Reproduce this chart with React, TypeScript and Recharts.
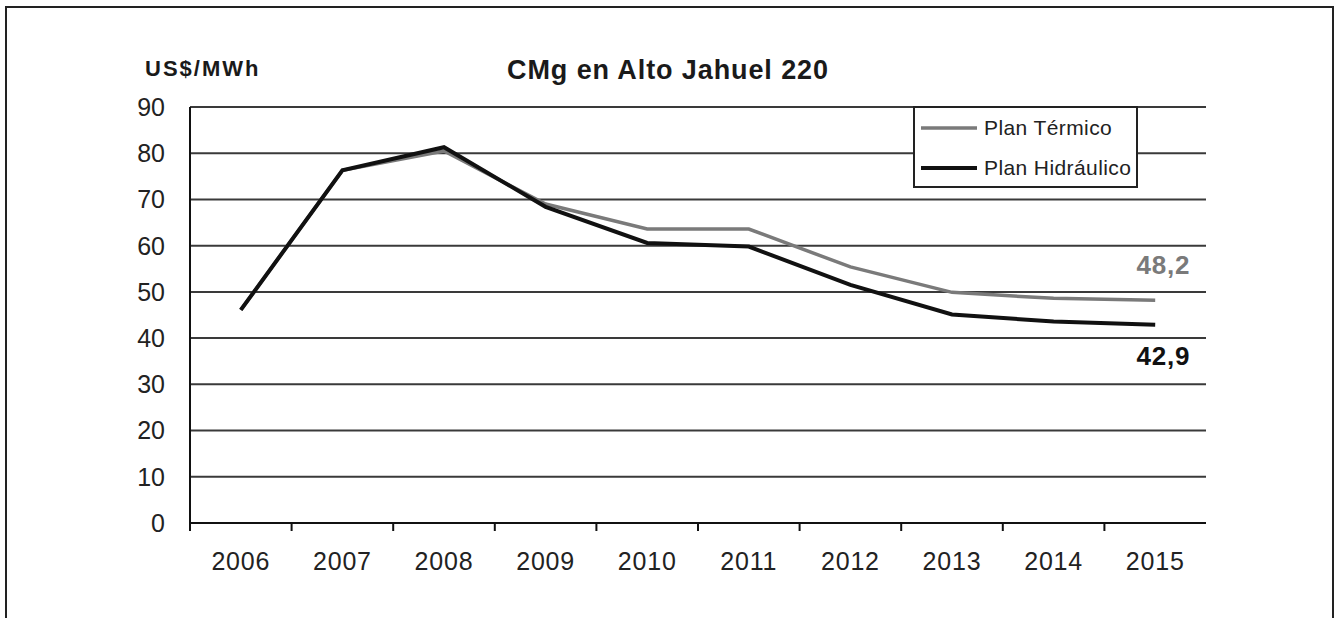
import React from 'react';
import { LineChart, Line, XAxis, YAxis, CartesianGrid } from 'recharts';

// values
const years = ['2006', '2007', '2008', '2009', '2010', '2011', '2012', '2013', '2014', '2015'];
const planTermico = [46.1, 76.3, 80.5, 69.0, 63.6, 63.6, 55.4, 49.9, 48.6, 48.2];
const planHidraulico = [46.1, 76.3, 81.3, 68.4, 60.6, 59.8, 51.5, 45.1, 43.6, 42.9];
const yTicks = [0, 10, 20, 30, 40, 50, 60, 70, 80, 90];

const data = years.map((year, i) => ({
  year,
  termico: planTermico[i],
  hidraulico: planHidraulico[i],
}));

const series = [
  { key: 'termico', name: 'Plan Térmico', color: '#7a7a7a', width: 3.5 },
  { key: 'hidraulico', name: 'Plan Hidráulico', color: '#111111', width: 4 },
];

const W = 1334;
const H = 618;
const MARGIN = { top: 107, right: 128, bottom: 35, left: 130 };
const Y_AXIS_W = 60;
const X_AXIS_H = 60;
const PLOT_W = W - MARGIN.left - Y_AXIS_W - MARGIN.right;
const BAND = PLOT_W / years.length;
const FONT = '"Liberation Sans", Arial, sans-serif';

const XTick = (props: any) => {
  const { x, y, payload } = props;
  return (
    <g>
      <line x1={x - BAND / 2} x2={x - BAND / 2} y1={y} y2={y + 8} stroke="#111" strokeWidth={2} />
      <text x={x} y={y + 47} textAnchor="middle" fontSize={25} letterSpacing={0.8} fill="#222" fontFamily={FONT}>
        {payload.value}
      </text>
    </g>
  );
};

// only the last point of each series carries its value
const endLabel = (color: string, dy: number) => (props: any) => {
  const { x, y, value, index } = props;
  if (index !== years.length - 1) return null;
  return (
    <text x={x + 35} y={y + dy} textAnchor="end" fontSize={26} fontWeight="bold" letterSpacing={0.8} fill={color} fontFamily={FONT}>
      {Number(value).toFixed(1).replace('.', ',')}
    </text>
  );
};

export default function App() {
  return (
    <div style={{ position: 'fixed', left: 0, top: 0, width: W, height: H, background: '#fff', overflow: 'hidden', fontFamily: FONT }}>
      {/* outer frame */}
      <div style={{ position: 'absolute', left: 5, top: 6, width: 1329, height: 700, border: '2px solid #222', boxSizing: 'border-box' }} />

      <div style={{ position: 'absolute', left: 145, top: 56, fontSize: 22, fontWeight: 'bold', letterSpacing: 2, color: '#1a1a1a' }}>
        US$/MWh
      </div>
      <div style={{ position: 'absolute', left: 0, width: 1336, top: 55, textAlign: 'center', fontSize: 27, fontWeight: 'bold', letterSpacing: 0.9, color: '#1a1a1a' }}>
        CMg en Alto Jahuel 220
      </div>

      <div style={{ position: 'absolute', left: 0, top: 0 }}>
        <LineChart width={W} height={H} data={data} margin={MARGIN}>
          <CartesianGrid horizontal vertical={false} stroke="#3a3a3a" strokeWidth={2} />
          <XAxis
            dataKey="year"
            scale="band"
            height={X_AXIS_H}
            axisLine={{ stroke: '#111', strokeWidth: 2 }}
            tickLine={false}
            tickSize={0}
            tickMargin={0}
            interval={0}
            tick={<XTick />}
          />
          <YAxis
            width={Y_AXIS_W}
            domain={[0, 90]}
            ticks={yTicks}
            interval={0}
            axisLine={{ stroke: '#111', strokeWidth: 2 }}
            tickLine={false}
            tickSize={0}
            tickMargin={25}
            tick={{ fontSize: 25, fill: '#222', fontFamily: FONT }}
          />
          <Line
            dataKey="termico"
            name={series[0].name}
            stroke={series[0].color}
            strokeWidth={series[0].width}
            dot={false}
            isAnimationActive={false}
            label={endLabel('#7a7a7a', -26)}
          />
          <Line
            dataKey="hidraulico"
            name={series[1].name}
            stroke={series[1].color}
            strokeWidth={series[1].width}
            dot={false}
            isAnimationActive={false}
            label={endLabel('#111', 40)}
          />
        </LineChart>
      </div>

      {/* legend box */}
      <div style={{ position: 'absolute', left: 913, top: 106, width: 225, height: 82, background: '#fff', border: '2px solid #222', boxSizing: 'border-box' }}>
        {series.map((s, i) => (
          <div key={s.key} style={{ position: 'absolute', left: 6, top: 7 + i * 40, display: 'flex', alignItems: 'center', height: 26 }}>
            <svg width={56} height={6}>
              <line x1={0} x2={56} y1={3} y2={3} stroke={s.color} strokeWidth={s.width} />
            </svg>
            <span style={{ marginLeft: 7, fontSize: 21, letterSpacing: 0.4, color: '#222' }}>{s.name}</span>
          </div>
        ))}
      </div>
    </div>
  );
}
